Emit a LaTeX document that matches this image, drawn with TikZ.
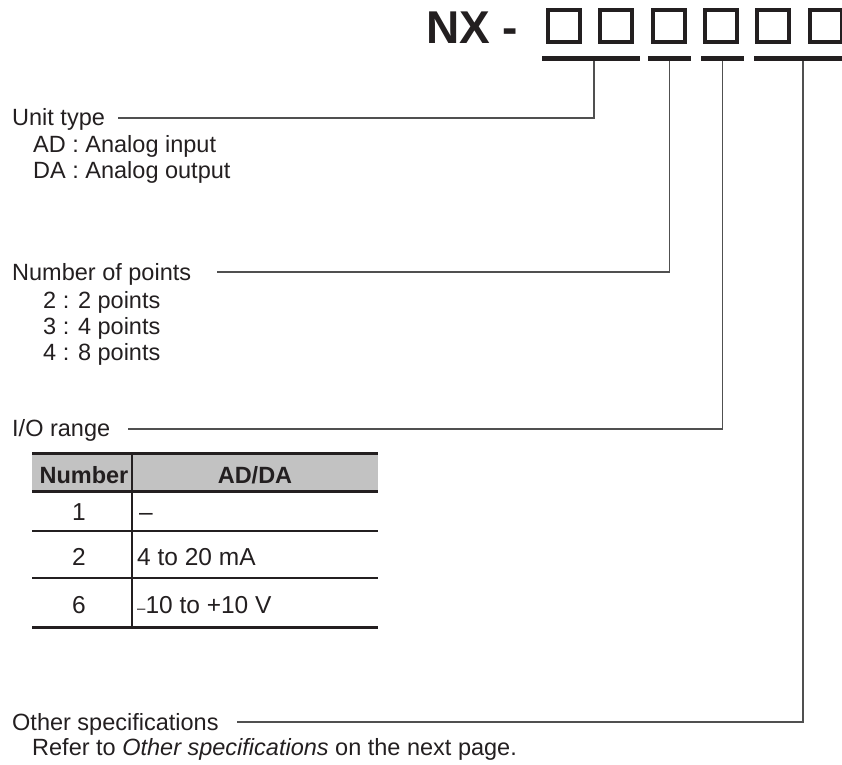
\documentclass[tikz,border=0pt]{standalone}
\usepackage{fontspec}
\setmainfont{Liberation Sans}
\usetikzlibrary{calc}
\definecolor{ink}{HTML}{231F20}
\definecolor{conncol}{HTML}{505050}
\definecolor{headgray}{HTML}{C2C2C2}
\begin{document}
\begin{tikzpicture}[x=1pt,y=-1pt,
  txt/.style={anchor=base west,inner sep=0pt,text=ink,font=\fontsize{23.5}{26}\selectfont},
  ctxt/.style={anchor=base,inner sep=0pt,text=ink,font=\fontsize{24.5}{26}\selectfont},
  ttxt/.style={anchor=base west,inner sep=0pt,text=ink,font=\fontsize{24.5}{26}\selectfont},
  codebox/.style={draw=ink,line width=4pt,minimum width=32pt,minimum height=32pt,inner sep=0pt},
  barbox/.style={fill=ink,draw=none,minimum height=5pt,inner sep=0pt},
  conn/.style={draw=conncol,line width=1.3pt},
  thickrule/.style={draw=ink,line width=3pt},
  thinrule/.style={draw=ink,line width=1.1pt}]
\useasboundingbox (0,0) rectangle (842,764);
% title
\node[anchor=base west,inner sep=0pt,text=ink,font=\fontsize{46}{50}\selectfont\bfseries] (title) at (426,43) {NX -};
\foreach \i in {0,...,5}{
  \node[codebox] (box\i) at ({564+52.3*\i},26) {};
}
% bars
\node[barbox,minimum width=98pt] (b1) at (591,58.5) {};
\node[barbox,minimum width=43pt] (b2) at (669.5,58.5) {};
\node[barbox,minimum width=43pt] (b3) at (722.5,58.5) {};
\node[barbox,minimum width=98pt] (b4) at (803,58.5) {};
% labels
\node[txt] (ut) at (12,125) {Unit type};
\node[txt] (ut1) at (33,152) {AD : Analog input};
\node[txt] (ut2) at (33,178) {DA : Analog output};
\node[txt] (np) at (12,280) {Number of points};
\node[txt] (np1) at (43,308) {2 : 2 points};
\node[txt] (np2) at (43,334) {3 : 4 points};
\node[txt] (np3) at (43,360) {4 : 8 points};
\node[txt] (io) at (12,436) {I/O range};
\node[txt] (os) at (12,730) {Other specifications};
\node[txt] (os1) at (32,755) {Refer to \textit{Other specifications} on the next page.};
% connector starts
\coordinate (utl) at (118,118);
\coordinate (npl) at (217,272);
\coordinate (iol) at (128,429);
\coordinate (osl) at (237,722);
\draw[conn] (utl) -| ([xshift=3pt]b1.south);
\draw[conn] (npl) -| (b2.south);
\draw[conn] (iol) -| (b3.south);
\draw[conn] (osl) -| (b4.south);
% table
\fill[headgray] (32,453) rectangle (378,491);
\draw[thinrule] (132,453) -- (132,627);
\draw[thickrule] (32,453) -- (378,453);
\draw[thickrule] (32,491) -- (378,491);
\draw[thinrule] (32,531) -- (378,531);
\draw[thinrule] (32,578) -- (378,578);
\draw[thickrule] (32,627) -- (378,627);
\node[ctxt,font=\fontsize{23.5}{26}\selectfont\bfseries] (h1) at (84,483) {Number};
\node[ctxt,font=\fontsize{23.5}{26}\selectfont\bfseries] (h2) at (255,483) {AD/DA};
\node[ctxt] (r1a) at (79,520) {1};
\node[ttxt] (r1b) at (139,520) {–};
\node[ctxt] (r2a) at (79,565) {2};
\node[ttxt] (r2b) at (137,565) {4 to 20 mA};
\node[ctxt] (r3a) at (79,613) {6};
\node[ttxt] (r3b) at (137,613) {{\fontsize{15}{16}\selectfont –}10 to +10 V};
\end{tikzpicture}
\end{document}
